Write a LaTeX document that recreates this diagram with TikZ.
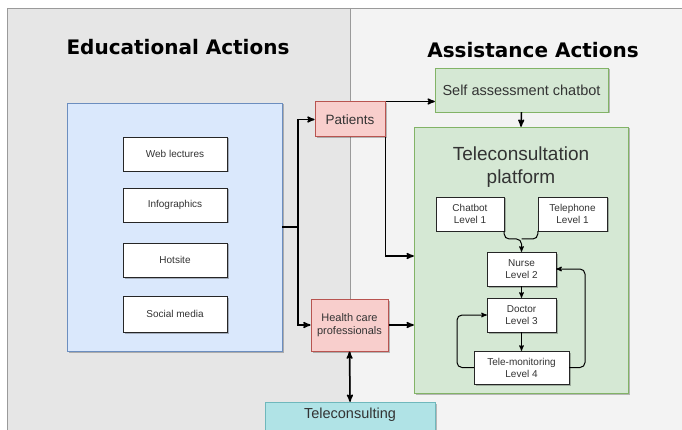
\documentclass[tikz,border=0pt]{standalone}
\usepackage{fontspec}
\setmainfont{Liberation Sans}
\newfontfamily\titlefont{DejaVu Sans}
\usetikzlibrary{arrows, shadows}

\definecolor{leftpanel}{HTML}{E6E6E6}
\definecolor{rightpanel}{HTML}{F3F3F3}
\definecolor{panelline}{HTML}{9A9A9A}
\definecolor{blueface}{HTML}{DAE8FC}
\definecolor{blueline}{HTML}{6C8EBF}
\definecolor{redface}{HTML}{F8CECC}
\definecolor{redline}{HTML}{B85450}
\definecolor{greenface}{HTML}{D5E8D4}
\definecolor{greenline}{HTML}{82B366}
\definecolor{cyanface}{HTML}{B0E3E6}
\definecolor{cyanline}{HTML}{6FB8BC}
\definecolor{boxtext}{HTML}{333333}

\begin{document}
\begin{tikzpicture}[x=1pt,y=-1pt,>=stealth',
  shade/.style={drop shadow={shadow xshift=1.5pt,shadow yshift=-1.5pt,opacity=0.25,fill=black}},
  box/.style={rectangle,shade,text=boxtext,align=center,inner sep=2pt},
  media/.style={box,fill=white,draw=black!85,minimum width=104,minimum height=34,font=\fontsize{10}{12}\selectfont},
  level/.style={box,fill=white,draw=black!85,minimum height=34,font=\fontsize{10}{12}\selectfont},
  target/.style={box,fill=redface,draw=redline,line width=1pt},
  service/.style={box,fill=greenface,draw=greenline},
  heading/.style={font=\titlefont\bfseries\fontsize{20}{24}\selectfont},
  link/.style={->,line width=1.5pt},
  inner/.style={->,line width=1pt,rounded corners=5pt}]

\useasboundingbox (0,0) rectangle (682,430);

% background panels
\fill[leftpanel] (7,8) rectangle (350,440);
\fill[rightpanel] (350,8) rectangle (690,440);
\draw[panelline] (7,440) -- (7,8) -- (690,8);
\draw[panelline,line width=0.6pt] (350,8) -- (350,440);

\node[heading] (edutitle) at (178,47) {Educational Actions};
\node[heading] (asstitle) at (533,50) {Assistance Actions};

% define the educational side
\node[box,fill=blueface,draw=blueline,minimum width=215,minimum height=248] (edu) at (174.5,227) {};
\node[media] (web)    at (175,154) {Web lectures};
\node[media] (info)   at (175,205) {Infographics};
\node[media] (hot)    at (175,260) {Hotsite};
\node[media,minimum height=36] (social) at (175,314) {Social media};

% define the target groups
\node[target,minimum width=70,minimum height=35,font=\fontsize{13.5}{16}\selectfont] (patients) at (350,119.5) {Patients};
\node[target,minimum width=77,minimum height=52,font=\fontsize{11}{13}\selectfont] (health) at (349.5,325) {Health care\\professionals};
\node[box,fill=cyanface,draw=cyanline,minimum width=170,minimum height=30,text height=13pt,text depth=11pt,
  inner sep=3pt,font=\fontsize{14.5}{17}\selectfont] (telecons) at (350,417) {Teleconsulting};

% define the assistance side
\node[service,minimum width=173,minimum height=44,font=\fontsize{14.5}{17}\selectfont] (self) at (521.5,90) {Self assessment chatbot};
\node[service,minimum width=214,minimum height=266] (platform) at (521,260) {};
\node[text=boxtext,align=center,font=\fontsize{19}{23}\selectfont] (ptitle) at (521,167) {Teleconsultation\\platform};

\node[level,minimum width=68] (chatbot)   at (470,214) {Chatbot\\Level 1};
\node[level,minimum width=69] (telephone) at (572.5,214) {Telephone\\Level 1};
\node[level,minimum width=69] (nurse)     at (521.5,269) {Nurse\\Level 2};
\node[level,minimum width=69] (doctor)    at (521.5,315) {Doctor\\Level 3};
\node[level,minimum width=95,minimum height=33] (tele) at (521.5,367.5) {Tele-monitoring\\Level 4};

\coordinate (split) at (298,227);
\coordinate (merge) at (521.5,239);
\coordinate (rloop) at (585,269);
\coordinate (lloop) at (457,315);

% define the links
\draw[line width=1.5pt] (edu.east) -- (split);
\draw[link] (split) |- (patients.west);
\draw[link] (split) |- (health.west);
\draw[link] (patients.north east) -- (patients.north east -| self.west);
\draw[link] (patients.south east) |- ([yshift=4pt]platform.west);
\draw[link] (health.east) -- (health.east -| platform.west);
\draw[link,<->] (health.south) -- (telecons.north);
\draw[link] (self.south) -- (platform.north);

\draw[inner] (chatbot.south east) |- (merge) -- (nurse.north);
\draw[line width=1pt,rounded corners=5pt] (telephone.south west) |- (merge);
\draw[inner] (nurse) -- (doctor);
\draw[inner] (doctor) -- (tele);
\draw[inner] (tele.east) -| (rloop) -- (nurse.east);
\draw[inner] (tele.west) -| (lloop) -- (doctor.west);

\end{tikzpicture}
\end{document}
